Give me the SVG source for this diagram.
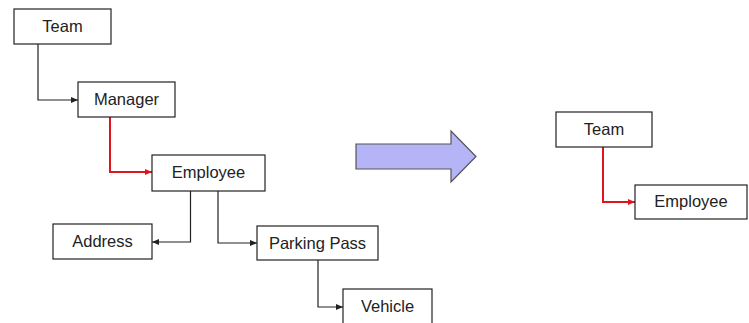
<svg xmlns="http://www.w3.org/2000/svg" width="749" height="323" viewBox="0 0 749 323">
<defs>
<style>
.box{fill:#fff;stroke:#222;stroke-width:1.2}
.lbl{font-family:"Liberation Sans",Arial,sans-serif;font-size:16.5px;fill:#222;text-anchor:middle}
.c{fill:none;stroke:#222;stroke-width:1.2}
.r{fill:none;stroke:#e0141c;stroke-width:2}
</style>
<marker id="ab" markerWidth="8" markerHeight="6" refX="7" refY="3" orient="auto" markerUnits="userSpaceOnUse"><path d="M0,0 L7,3 L0,6 z" fill="#222"/></marker>
<marker id="ar" markerWidth="8" markerHeight="6" refX="7" refY="3" orient="auto" markerUnits="userSpaceOnUse"><path d="M0,0 L7,3 L0,6 z" fill="#e0141c"/></marker>
</defs>
<rect width="749" height="323" fill="#fff"/>
<g id="connectors">
<path class="c" d="M38,44 V100 H78" marker-end="url(#ab)"/>
<path class="r" d="M110,117 V172 H152" marker-end="url(#ar)"/>
<path class="c" d="M190.5,191 V242 H152" marker-end="url(#ab)"/>
<path class="c" d="M218,191 V243 H257" marker-end="url(#ab)"/>
<path class="c" d="M318,260 V307 H343" marker-end="url(#ab)"/>
<path class="r" d="M603,147 V202 H635" marker-end="url(#ar)"/>
</g>
<g id="team"><rect class="box" x="14" y="9" width="97" height="35"/><text class="lbl" x="62.5" y="32">Team</text></g>
<g id="manager"><rect class="box" x="78" y="82" width="97" height="35"/><text class="lbl" x="126.5" y="105">Manager</text></g>
<g id="employee"><rect class="box" x="152" y="155" width="113" height="36"/><text class="lbl" x="208.5" y="178">Employee</text></g>
<g id="address"><rect class="box" x="53" y="224" width="99" height="35"/><text class="lbl" x="102.5" y="247">Address</text></g>
<g id="parking-pass"><rect class="box" x="257" y="226" width="121" height="34"/><text class="lbl" x="317.5" y="249">Parking Pass</text></g>
<g id="vehicle"><rect class="box" x="343" y="289" width="89" height="36"/><text class="lbl" x="387.5" y="312">Vehicle</text></g>
<g id="big-arrow"><path d="M356,144 H451 V131 L476,156.5 L451,182 V169 H356 Z" fill="#b4b4f6" stroke="#555" stroke-width="1.2"/></g>
<g id="team2"><rect class="box" x="556" y="112" width="96" height="35"/><text class="lbl" x="604" y="135">Team</text></g>
<g id="employee2"><rect class="box" x="635" y="185" width="112" height="34"/><text class="lbl" x="691" y="207">Employee</text></g>
</svg>
